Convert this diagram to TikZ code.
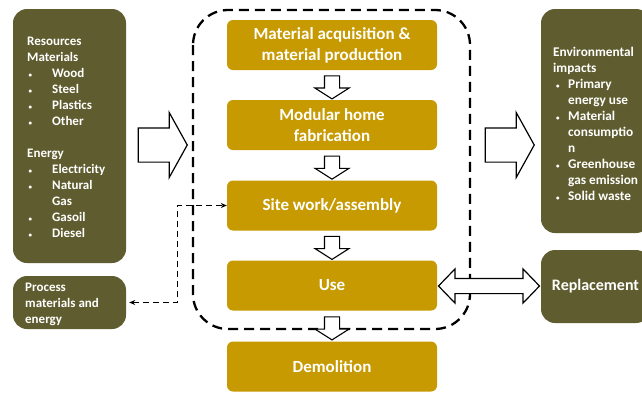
\documentclass[tikz,border=0pt]{standalone}
\usepackage{fontspec}
\setmainfont{Carlito}
\usepackage{xcolor}
\usepackage{tikz}
\usetikzlibrary{shapes.arrows,arrows.meta,calc}

\definecolor{boxolive}{RGB}{95,93,47}
\definecolor{stagegold}{RGB}{198,154,0}
\newcommand{\resitem}[1]{\makebox[25pt][l]{\hspace{1.5pt}\scriptsize\textbullet}#1}
\newcommand{\envitem}[1]{\makebox[15pt][l]{\hspace{3pt}\scriptsize\textbullet}#1}

\begin{document}
\begin{tikzpicture}[x=1pt,y=-1pt,
  olivebox/.style={fill=boxolive, rounded corners=14pt, inner sep=0pt},
  stagebox/.style={fill=stagegold, rounded corners=6pt, minimum width=210pt, minimum height=50pt, text=white, align=center, font=\fontsize{17}{21}\selectfont\bfseries},
  boxtext/.style={text=white, align=left, anchor=north west, inner sep=0pt},
  downarrow/.style={single arrow, draw=black, fill=white, line width=1.1pt, inner xsep=0pt, inner ysep=7pt, minimum height=23pt, single arrow head extend=9.5pt, single arrow tip angle=115, rotate=-90},
  bigarrow/.style={single arrow, draw=black, fill=white, line width=1.2pt, inner xsep=0pt, inner ysep=16.5pt, minimum height=49pt, single arrow head extend=15.5pt, single arrow tip angle=122},
  flow/.style={line width=1.4pt, dash pattern=on 6pt off 4pt, {Stealth[length=6pt,width=5pt]}-{Stealth[length=6pt,width=5pt]}}]
\clip (0,0) rectangle (642,392);

% system boundary
\draw[line width=2.3pt, dash pattern=on 10pt off 6pt, rounded corners=35pt] (193,10) rectangle (470,329);

% side boxes
\node[olivebox, minimum width=113pt, minimum height=254pt] (res) at (69.5,136) {};
\node[olivebox, minimum width=113pt, minimum height=53pt] (proc) at (69.5,302.5) {};
\node[olivebox, minimum width=109pt, minimum height=224pt] (env) at (595.5,121) {};
\node[olivebox, minimum width=109pt, minimum height=73pt, text=white, font=\fontsize{16}{19}\selectfont\bfseries] (repl) at (595.5,286.5) {Replacement};

\node[boxtext, font=\fontsize{13}{16}\selectfont\bfseries] (restext) at (27,37) {Resources\\Materials\\\resitem{Wood}\\\resitem{Steel}\\\resitem{Plastics}\\\resitem{Other}\\[16pt]Energy\\\resitem{Electricity}\\\resitem{Natural}\\\makebox[25pt]{}Gas\\\resitem{Gasoil}\\\resitem{Diesel}};
\node[boxtext, font=\fontsize{13}{16}\selectfont\bfseries] (proctext) at (25,283) {Process\\materials and\\energy};
\node[boxtext, font=\fontsize{13.3}{16}\selectfont\bfseries] (envtext) at (553,47) {Environmental\\impacts\\\envitem{Primary}\\\makebox[15pt]{}energy use\\\envitem{Material}\\\makebox[15pt]{}consumptio\\\makebox[15pt]{}n\\\envitem{Greenhouse}\\\makebox[15pt]{}gas emission\\\envitem{Solid waste}};

% life cycle stages
\node[stagebox] (acq) at (332,45) {Material acquisition \&\\material production};
\node[stagebox] (fab) at (332,125) {Modular home\\fabrication};
\node[stagebox] (site) at (332,205.5) {Site work/assembly};
\node[stagebox] (use) at (332,285.5) {Use};
\node[stagebox] (demo) at (332,366.5) {Demolition};

\node[downarrow] (a1) at ($(acq.south)!0.5!(fab.north)$) {};
\node[downarrow] (a2) at ($(fab.south)!0.5!(site.north)$) {};
\node[downarrow] (a3) at ($(site.south)!0.5!(use.north)$) {};
\node[downarrow] (a4) at ($(use.south)!0.5!(demo.north)$) {};

\node[bigarrow] (inarrow) at (158,145) {};
\node[bigarrow] (outarrow) at (505,145) {};
\node[double arrow, draw=black, fill=white, line width=1.2pt, inner xsep=0pt, inner ysep=7pt, minimum height=101pt, double arrow head extend=9.5pt, double arrow tip angle=92] (swap) at ($(use.east)!0.5!(repl.west)$) {};

% process materials and energy
\coordinate (bend) at ([xshift=51pt]proc.east);
\draw[flow, shorten <=3pt] (proc.east) -- (bend) |- (site.west);
\end{tikzpicture}
\end{document}
